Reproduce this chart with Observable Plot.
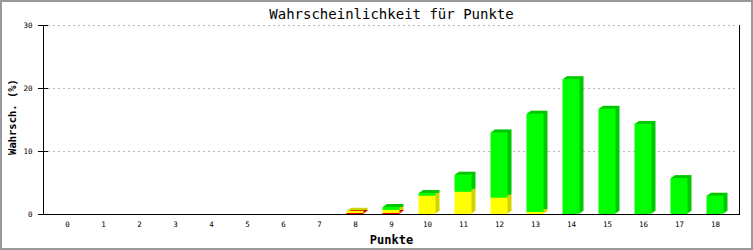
<!DOCTYPE html>
<html>
<head>
<meta charset="utf-8">
<script src="https://cdn.jsdelivr.net/npm/d3@7"></script>
<script src="https://cdn.jsdelivr.net/npm/@observablehq/plot@0.6"></script>
<style>
  html, body { margin: 0; padding: 0; background: #fff; }
  #wrap { position: relative; width: 753px; height: 250px; overflow: hidden; }
  #border { position: absolute; left: 0; top: 0; width: 753px; height: 250px; box-sizing: border-box; border: 2px solid #9a9a9a; pointer-events: none; }
  g[aria-label="chart-title"] text { letter-spacing: 0.55px; }
</style>
</head>
<body>
<div id="wrap"><div id="border"></div></div>
<script>
const title = "Wahrscheinlichkeit für Punkte";
const xLabel = "Punkte";
const yLabel = "Wahrsch. (%)";
const points = [0,1,2,3,4,5,6,7,8,9,10,11,12,13,14,15,16,17,18];
const yTicks = [0, 10, 20, 30];
const seriesNames = ["rot", "gelb", "grün"];
const rot   = [0,0,0,0,0,0,0,0,0.16,0.16,0,0,0,0,0,0,0,0,0];
const gelb  = [0,0,0,0,0,0,0,0,0.35,0.5,2.9,3.54,2.6,0.32,0,0,0,0,0];
const gruen = [0,0,0,0,0,0,0,0,0,0.45,0.43,2.7,10.35,15.6,21.4,16.7,14.3,5.7,2.9];
const frontColors = ["#ff0000", "#ffff00", "#00ff00"];
const sideColors  = ["#c80000", "#d2d200", "#00c800"];

const seriesValues = [rot, gelb, gruen];
const rows = [];
seriesNames.forEach((s, i) => {
  points.forEach((p, j) => {
    if (seriesValues[i][j] > 0) rows.push({point: p, series: s, value: seriesValues[i][j], idx: i});
  });
});

const font = "DejaVu Sans Mono";
const barOpts = {x: "point", y: "value", z: "series", order: seriesNames, insetLeft: 9.5, insetRight: 9.5};
const shadowOffsets = [[1, -1], [2, -1.5], [3, -2.25], [4, -3]];

const marks = [
  Plot.gridY(yTicks.filter(d => d > 0), {stroke: "#b8b8b8", strokeOpacity: 1, strokeDasharray: "2,3", insetLeft: 5, insetRight: 2}),
  ...shadowOffsets.map(([dx, dy]) => Plot.barY(rows, Plot.stackY({...barOpts, fill: d => sideColors[d.idx], dx, dy}))),
  Plot.barY(rows, Plot.stackY({...barOpts, fill: d => frontColors[d.idx]})),
  Plot.ruleY([0], {stroke: "#000", insetLeft: -5}),
  Plot.frame({anchor: "left", stroke: "#000"}),
  Plot.frame({anchor: "right", stroke: "#000"}),
  Plot.axisY({ticks: yTicks, tickSize: 10, dx: 5, tickFormat: () => "", stroke: "#000", label: null}),
  Plot.axisY({ticks: yTicks, tickSize: 0, tickPadding: 11, fontSize: 7.5, fill: "#000", label: null}),
  Plot.axisX({tickSize: 0, tickPadding: 7, fontSize: 7.5, fill: "#000", label: null}),
  Plot.text([title], {ariaLabel: "chart-title", frameAnchor: "top", lineAnchor: "middle", textAnchor: "middle", dy: -11, fontSize: 14, fontFamily: font, fill: "#000"}),
  Plot.text([xLabel], {frameAnchor: "bottom", lineAnchor: "middle", textAnchor: "middle", dy: 25.2, fontSize: 12, fontWeight: "bold", fontFamily: font, fill: "#000"}),
  Plot.text([yLabel], {frameAnchor: "left", lineAnchor: "middle", textAnchor: "middle", dx: -31, dy: -3, rotate: -90, fontSize: 10.5, fontWeight: "bold", fontFamily: font, fill: "#000"})
];

const chart = Plot.plot({
  width: 753,
  height: 250,
  marginLeft: 43,
  marginRight: 14,
  marginTop: 25,
  marginBottom: 36,
  style: {fontFamily: font, fontSize: "7.5px", background: "#fff", color: "#000", overflow: "visible"},
  x: {type: "band", domain: points, padding: 0, axis: null},
  y: {domain: [0, 30], axis: null},
  color: {type: "identity"},
  marks
});
document.getElementById("wrap").prepend(chart);
</script>
</body>
</html>
